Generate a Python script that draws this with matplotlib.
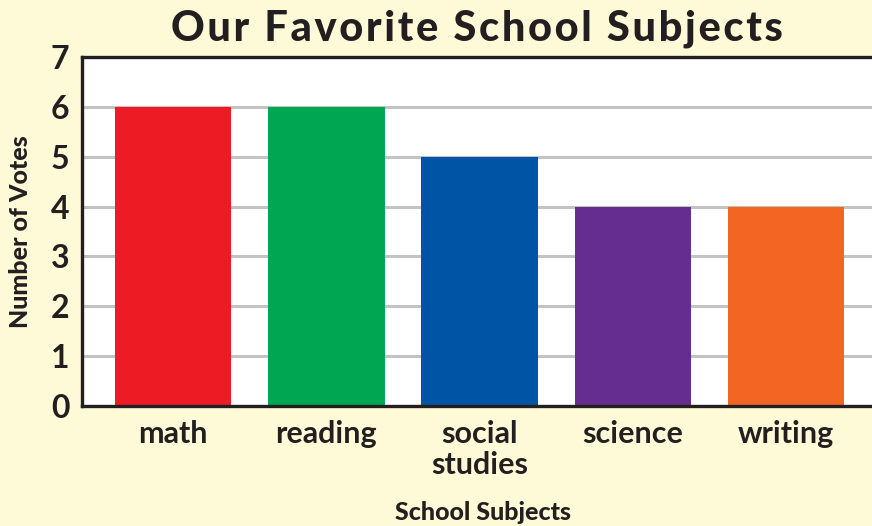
import numpy as np
from matplotlib import pyplot as plt

subjects = ['math', 'reading', 'social\nstudies', 'science', 'writing']
votes = [6, 6, 5, 4, 4]
bar_colors = ['#ED1C24', '#00A651', '#0054A6', '#662D91', '#F26522']
y_ticks = [0, 1, 2, 3, 4, 5, 6, 7]
title = 'Our Favorite School Subjects'

bg = '#FEF9D6'
ink = '#231F20'
fam = ['Lato', 'DejaVu Sans']

fig = plt.figure(figsize=(8.72, 5.26), dpi=100, facecolor=bg)
ax = fig.add_axes([82 / 872, 120 / 526, 790 / 872, 349 / 526])
ax.set_facecolor('white')

x = np.arange(len(subjects))
ax.bar(x, votes, width=0.76, color=bar_colors, zorder=3)

ax.set_xlim(-0.594, 4.56)
ax.set_ylim(0, 7)
ax.set_yticks(y_ticks)
ax.set_xticks(x)
ax.set_xticklabels(subjects, fontfamily=fam, fontweight='bold',
                   fontsize=22, color=ink, linespacing=1.15)
ax.set_yticklabels([str(v) for v in y_ticks], fontfamily=fam,
                   fontweight='bold', fontsize=23, color=ink)
ax.tick_params(axis='x', length=0, pad=10)
ax.tick_params(axis='y', length=0, pad=9)

ax.grid(axis='y', color='#C3C3C3', linewidth=2.2, zorder=1)
ax.set_axisbelow(True)

for side in ['left', 'bottom', 'top']:
    ax.spines[side].set_linewidth(2.4)
    ax.spines[side].set_color(ink)
    ax.spines[side].set_zorder(4)
ax.spines['right'].set_visible(False)

# letter-spaced title (hair spaces between the letters)
spaced = '\u200a'.join(title)
ax.set_title(spaced, fontfamily=fam, fontweight='black',
             fontsize=30, color=ink, pad=12)
ax.set_ylabel('Number of Votes', fontfamily=fam, fontweight='black',
              fontsize=18, color=ink, va='center')
ax.yaxis.set_label_coords(-0.078, 0.5)
ax.set_xlabel('School Subjects', fontfamily=fam, fontweight='black',
              fontsize=18, color=ink, va='center')
ax.xaxis.set_label_coords(0.508, -0.304)

fig.savefig('out.png', dpi=100, facecolor=bg)
